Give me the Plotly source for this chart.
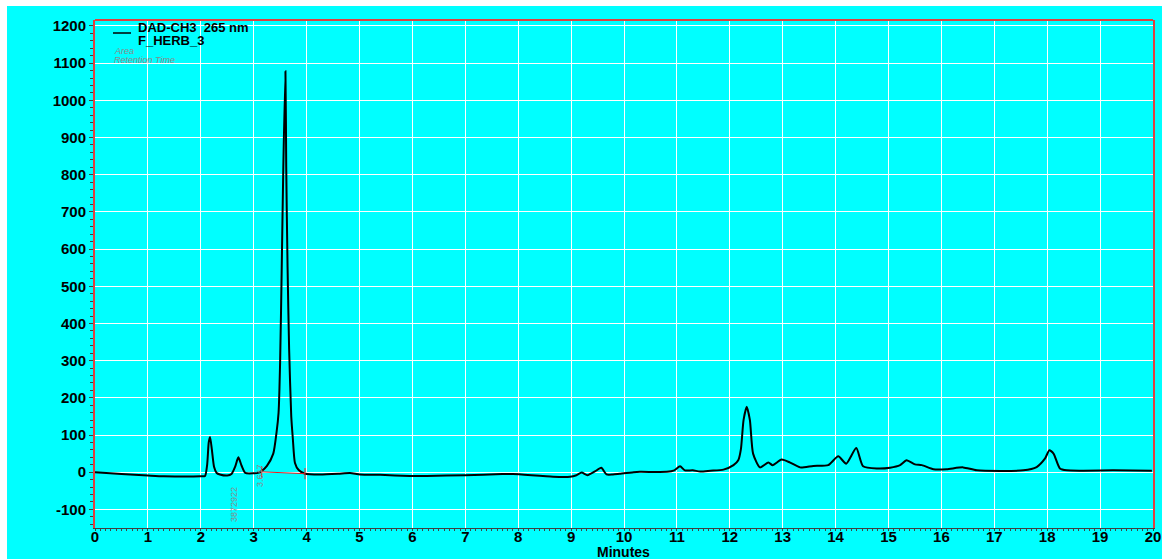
import plotly.graph_objects as go

# ---- data ----
time_min = [0, 0.5, 1.0, 1.3, 2.0, 2.08, 2.12, 2.15, 2.175, 2.21, 2.25, 2.30, 2.36, 2.5, 2.58, 2.65, 2.71, 2.77,
            2.84, 2.99, 3.1, 3.15, 3.25, 3.37, 3.43, 3.47, 3.50, 3.53, 3.56, 3.60, 3.615, 3.64, 3.67,
            3.71, 3.74, 3.78, 3.85, 3.97, 4.25, 4.6, 4.82, 5.01, 5.39, 5.95, 6.27, 7.0, 7.7, 7.9,
            8.66, 8.98, 9.1, 9.2, 9.31, 9.45, 9.57, 9.67, 9.79, 9.92, 10.18, 10.30, 10.81, 10.95,
            11.06, 11.15, 11.3, 11.44, 11.63, 11.88, 12.07, 12.16, 12.21, 12.26, 12.32, 12.38, 12.44, 12.57,
            12.73, 12.81, 12.98, 13.14, 13.33, 13.58, 13.86, 14.05, 14.20, 14.39, 14.52, 14.78, 15.03,
            15.22, 15.34, 15.50, 15.63, 15.85, 16.10, 16.41, 16.67, 17.55, 17.80, 17.96, 18.04, 18.12,
            18.24, 18.37, 19.25, 19.98]
signal_mau = [0, -5, -9, -11, -11, -10, 20, 80, 95, 60, 15, -2, -6, -9, -5, 15, 40, 18,
              -2, -3, -1, 3, 17, 50, 105, 160, 300, 552, 821, 1078, 821, 552, 330,
              150, 90, 25, 6, -4, -6, -4, -2, -6, -7, -10, -10, -8, -5, -5,
              -12, -12, -8, -1, -8, 2, 12, -6, -6, -4, 0, 1, 1, 5,
              16, 5, 5, 2, 4, 7, 19, 32, 62, 140, 176, 140, 50, 13,
              26, 19, 34, 26, 13, 17, 19, 43, 23, 65, 16, 10, 12,
              19, 32, 21, 19, 8, 8, 13, 5, 5, 14, 37, 59, 50,
              10, 5, 5, 4]

baseline_t = [3.15, 3.97]
baseline_v = [1, -4]

y_ticks = [-100, 0, 100, 200, 300, 400, 500, 600, 700, 800, 900, 1000, 1100, 1200]
x_ticks = list(range(0, 21))

legend_line1 = "DAD-CH3  265 nm"
legend_line2 = "F_HERB_3"
label_lines = ["Area", "Retention Time"]
area_label = "3872922"
rt_label = "3.647"
x_title = "Minutes"

CYAN = "#00FFFF"
FONT = "Arial, Liberation Sans, sans-serif"

W, H = 1162, 559
L, T = 95, 20
PW = 1058
R = W - L - PW
PBOT = 528
B = H - PBOT
PH = PBOT - T


def px(xw):
    return (xw - L) / PW


def py(yw):
    return (PBOT - yw) / PH


fig = go.Figure()
fig.add_trace(go.Scatter(x=time_min, y=signal_mau, mode="lines",
                         line=dict(color="black", width=2, shape="spline", smoothing=0.6),
                         hoverinfo="x+y", showlegend=False))
fig.add_trace(go.Scatter(x=baseline_t, y=baseline_v, mode="lines+markers",
                         line=dict(color="#E02020", width=1),
                         marker=dict(symbol="line-ns", size=8, line=dict(color="#E02020", width=1)),
                         showlegend=False))

shapes = [
    # cyan canvas, leaving the thin white strip at top/left of the reference
    dict(type="rect", xref="paper", yref="paper", x0=px(7), x1=px(W + 5), y0=py(6), y1=py(H + 5),
         fillcolor=CYAN, line=dict(width=0), layer="below"),
    dict(type="line", xref="paper", yref="paper", x0=0, x1=1, y0=1, y1=1,
         line=dict(color="#E04040", width=2)),
    dict(type="line", xref="paper", yref="paper", x0=px(113), x1=px(131), y0=py(33), y1=py(33),
         line=dict(color="black", width=1.5)),
]

annotations = [
    dict(text=f"<b>{legend_line1}</b>", x=px(136), y=py(28), xref="paper", yref="paper",
         showarrow=False, xanchor="left", yanchor="middle", font=dict(size=13, color="black", family=FONT)),
    dict(text=f"<b>{legend_line2}</b>", x=px(136), y=py(40), xref="paper", yref="paper",
         showarrow=False, xanchor="left", yanchor="middle", font=dict(size=13, color="black", family=FONT)),
    dict(text=f"<i>{label_lines[0]}</i>", x=px(112), y=py(51), xref="paper", yref="paper",
         showarrow=False, xanchor="left", yanchor="middle", font=dict(size=9, color="#8A8A8A", family=FONT)),
    dict(text=f"<i>{label_lines[1]}</i>", x=px(112), y=py(60), xref="paper", yref="paper",
         showarrow=False, xanchor="left", yanchor="middle", font=dict(size=9, color="#8A8A8A", family=FONT)),
    dict(text=area_label, x=px(234), y=py(505), xref="paper", yref="paper", textangle=-90,
         showarrow=False, xanchor="center", yanchor="middle", font=dict(size=9, color="#8A8A8A", family=FONT)),
    dict(text=rt_label, x=px(260), y=py(476), xref="paper", yref="paper", textangle=-90,
         showarrow=False, xanchor="center", yanchor="middle", font=dict(size=9, color="#8A8A8A", family=FONT)),
    dict(text=f"<b>{x_title}</b>", x=px(623), y=py(552), xref="paper", yref="paper",
         showarrow=False, xanchor="center", yanchor="middle", font=dict(size=14, color="black", family=FONT)),
]

fig.update_layout(
    width=W, height=H,
    margin=dict(l=L, r=R, t=T, b=B, autoexpand=False),
    paper_bgcolor="white", plot_bgcolor=CYAN,
    font=dict(family=FONT, color="black"),
    shapes=shapes, annotations=annotations,
    xaxis=dict(range=[0, 20], tickvals=x_ticks, ticktext=[f"<b>{v}</b>" for v in x_ticks],
               tickfont=dict(size=15, family=FONT, color="black"),
               showgrid=True, gridcolor="white", gridwidth=1, zeroline=False,
               showline=True, linecolor="#404040", linewidth=1,
               ticks="outside", ticklen=2, tickcolor="#404040", ticklabelstandoff=-7,
               ticklabeloverflow="allow",
               minor=dict(dtick=0.1, ticks="outside", ticklen=2, tickcolor="#404040", showgrid=False),
               automargin=False),
    yaxis=dict(range=[-150, 1216], tickvals=y_ticks, ticktext=[f"<b>{v}</b>" for v in y_ticks],
               tickfont=dict(size=15, family=FONT, color="black"),
               showgrid=True, gridcolor="white", gridwidth=1, zeroline=False,
               showline=True, linecolor="#E04040", linewidth=2, mirror=True,
               ticks="outside", ticklen=4, tickcolor="#404040",
               minor=dict(dtick=20, ticks="outside", ticklen=3, tickcolor="#404040", showgrid=False),
               automargin=False),
)

fig.write_html("out.html",
               config={"displayModeBar": False},
               post_script="document.body.style.margin='0';document.body.style.overflow='hidden';")
